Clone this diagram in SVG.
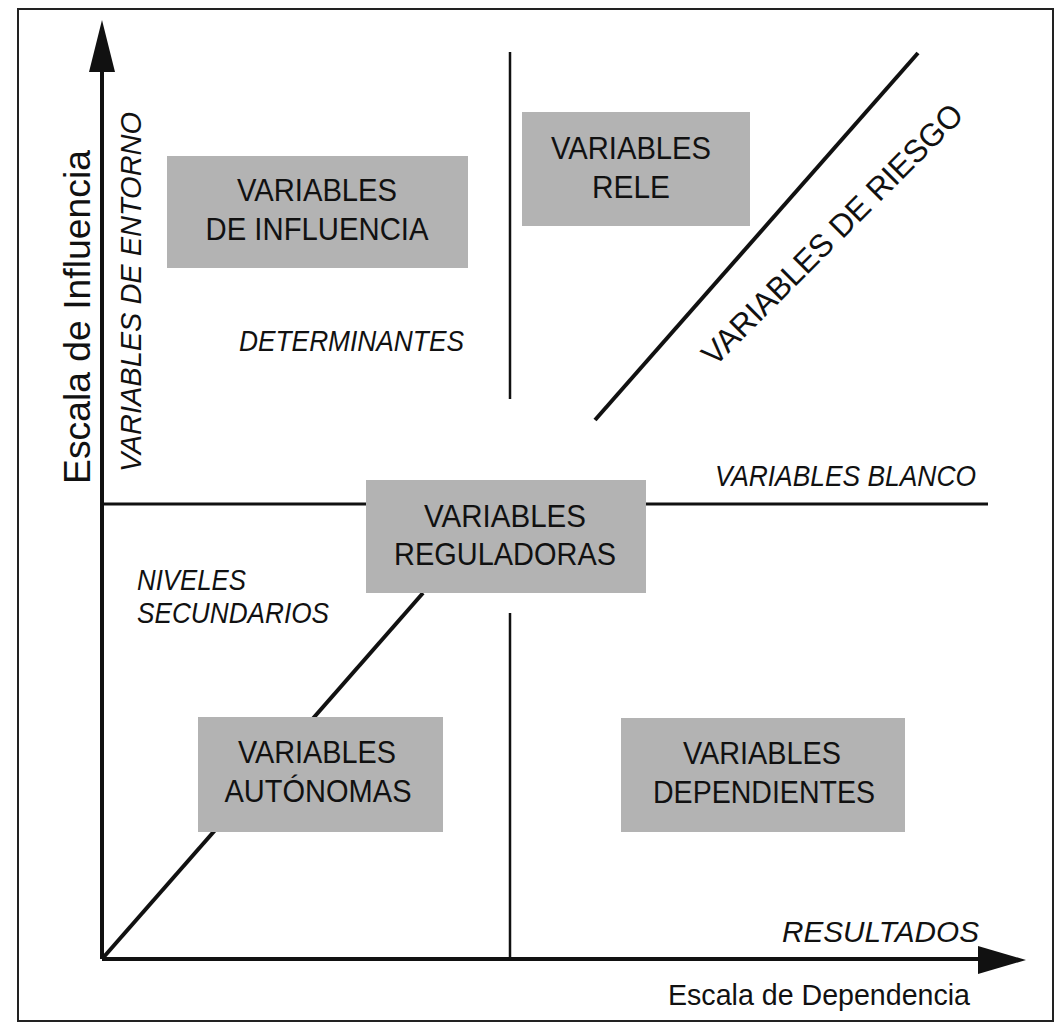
<svg xmlns="http://www.w3.org/2000/svg" width="1057" height="1023" viewBox="0 0 1057 1023">
<style>
text{font-family:"Liberation Sans",Arial,sans-serif;fill:#111;}
.box{fill:#b3b3b3;stroke:none;}
.bt{font-size:32px;text-anchor:middle;}
.it{font-style:italic;font-size:29px;}
.ln{stroke:#111;fill:none;}
</style>
<rect x="18" y="9" width="1035" height="1012" fill="#fff" stroke="#222" stroke-width="2"/>
<g id="connectors">
  <line class="ln" x1="102" y1="959" x2="102" y2="70" stroke-width="4"/>
  <polygon points="102,20 89,72 115,72" fill="#111"/>
  <line class="ln" x1="102" y1="959" x2="982" y2="959" stroke-width="4"/>
  <polygon points="1026,960 978,946 978,974" fill="#111"/>
  <line class="ln" x1="102" y1="504" x2="366" y2="504" stroke-width="3"/>
  <line class="ln" x1="646" y1="504" x2="988" y2="504" stroke-width="3"/>
  <line class="ln" x1="510" y1="52" x2="510" y2="399" stroke-width="2.5"/>
  <line class="ln" x1="510" y1="613" x2="510" y2="959" stroke-width="2.5"/>
  <line class="ln" x1="595" y1="420" x2="918" y2="53" stroke-width="4"/>
  <line class="ln" x1="102" y1="959" x2="423" y2="593" stroke-width="4"/>
</g>
<g id="axis-labels">
  <text x="90" y="317" transform="rotate(-90 90 317)" font-size="37" text-anchor="middle" textLength="334" lengthAdjust="spacingAndGlyphs">Escala de Influencia</text>
  <text x="141" y="292" transform="rotate(-90 141 292)" class="it" font-size="31" text-anchor="middle" textLength="360" lengthAdjust="spacingAndGlyphs">VARIABLES DE ENTORNO</text>
  <text x="668" y="1005" font-size="30" textLength="302" lengthAdjust="spacingAndGlyphs">Escala de Dependencia</text>
  <text x="782" y="942" class="it" font-size="34" textLength="197" lengthAdjust="spacingAndGlyphs">RESULTADOS</text>
</g>
<g id="labels">
  <text x="239" y="351" class="it" font-size="28" textLength="225" lengthAdjust="spacingAndGlyphs">DETERMINANTES</text>
  <text x="715" y="486" class="it" textLength="261" lengthAdjust="spacingAndGlyphs">VARIABLES BLANCO</text>
  <text x="137" y="590" class="it" textLength="109" lengthAdjust="spacingAndGlyphs">NIVELES</text>
  <text x="137" y="623" class="it" textLength="192" lengthAdjust="spacingAndGlyphs">SECUNDARIOS</text>
  <text x="840" y="242" transform="rotate(-45 840 242)" font-size="32" text-anchor="middle" textLength="354" lengthAdjust="spacingAndGlyphs">VARIABLES DE RIESGO</text>
</g>
<g id="node-influencia">
  <rect class="box" x="167" y="156" width="301" height="112"/>
  <text class="bt" x="317" y="201" textLength="160" lengthAdjust="spacingAndGlyphs">VARIABLES</text>
  <text class="bt" x="317" y="240" textLength="223" lengthAdjust="spacingAndGlyphs">DE INFLUENCIA</text>
</g>
<g id="node-rele">
  <rect class="box" x="522" y="112" width="228" height="114"/>
  <text class="bt" x="631" y="159" textLength="160" lengthAdjust="spacingAndGlyphs">VARIABLES</text>
  <text class="bt" x="631" y="198" textLength="78" lengthAdjust="spacingAndGlyphs">RELE</text>
</g>
<g id="node-reguladoras">
  <rect class="box" x="366" y="480" width="280" height="113"/>
  <text class="bt" x="505" y="527" textLength="162" lengthAdjust="spacingAndGlyphs">VARIABLES</text>
  <text class="bt" x="505" y="565" textLength="222" lengthAdjust="spacingAndGlyphs">REGULADORAS</text>
</g>
<g id="node-autonomas">
  <rect class="box" x="198" y="717" width="245" height="115"/>
  <text class="bt" x="317" y="763" textLength="158" lengthAdjust="spacingAndGlyphs">VARIABLES</text>
  <text class="bt" x="318" y="802" textLength="187" lengthAdjust="spacingAndGlyphs">AUTÓNOMAS</text>
</g>
<g id="node-dependientes">
  <rect class="box" x="621" y="718" width="284" height="114"/>
  <text class="bt" x="762" y="764" textLength="158" lengthAdjust="spacingAndGlyphs">VARIABLES</text>
  <text class="bt" x="764" y="803" textLength="222" lengthAdjust="spacingAndGlyphs">DEPENDIENTES</text>
</g>
</svg>
